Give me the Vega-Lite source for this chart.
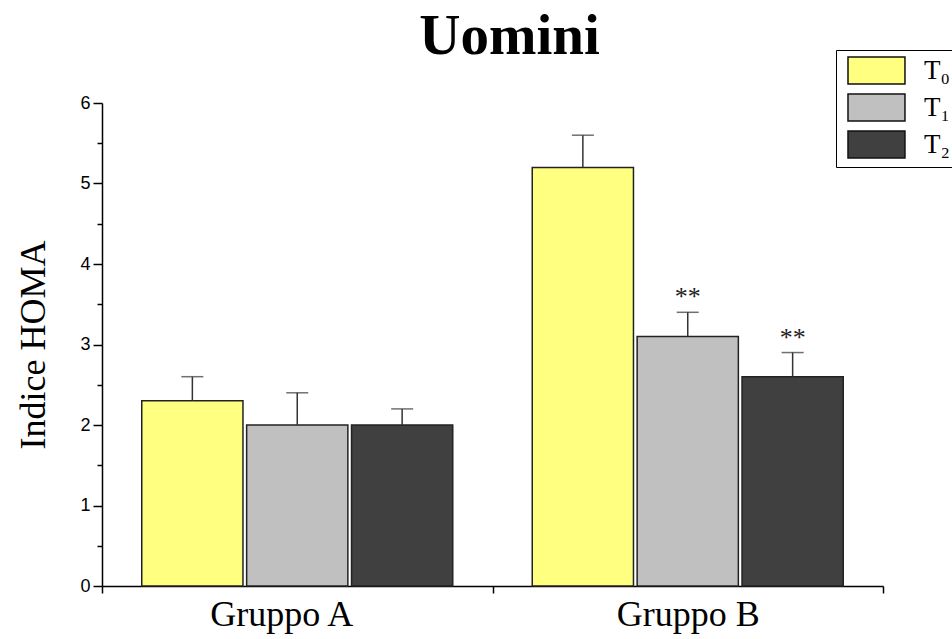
{
  "$schema": "https://vega.github.io/schema/vega-lite/v6.json",
  "autosize": {"type": "none"},
  "padding": {"left": 102, "top": 103, "right": 69, "bottom": 53},
  "width": 781,
  "height": 483,
  "background": "white",
  "config": {"view": {"stroke": null}},
  "title": {
    "text": "Uomini",
    "font": "Liberation Serif",
    "fontSize": 57,
    "fontWeight": "bold",
    "color": "black",
    "anchor": "middle",
    "dx": 17,
    "offset": -61,
    "baseline": "alphabetic"
  },
  "data": {
    "values": [
      {"gruppo": "Gruppo A", "tempo": "T₀", "valore": 2.3, "err": 2.6, "sig": ""},
      {"gruppo": "Gruppo A", "tempo": "T₁", "valore": 2.0, "err": 2.4, "sig": ""},
      {"gruppo": "Gruppo A", "tempo": "T₂", "valore": 2.0, "err": 2.2, "sig": ""},
      {"gruppo": "Gruppo B", "tempo": "T₀", "valore": 5.2, "err": 5.6, "sig": ""},
      {"gruppo": "Gruppo B", "tempo": "T₁", "valore": 3.1, "err": 3.4, "sig": "**"},
      {"gruppo": "Gruppo B", "tempo": "T₂", "valore": 2.6, "err": 2.9, "sig": "**"}
    ]
  },
  "encoding": {
    "x": {
      "field": "gruppo",
      "type": "nominal",
      "scale": {"paddingInner": 0, "paddingOuter": 0},
      "axis": {
        "title": null,
        "labelAngle": 0,
        "labelFont": "Liberation Serif",
        "labelFontSize": 36,
        "labelColor": "black",
        "labelBaseline": "alphabetic",
        "labelPadding": 32,
        "labelOffset": {"condition": {"test": "datum.value === 'Gruppo A'", "value": -16}, "value": 0},
        "tickBand": "extent",
        "tickSize": 7,
        "tickWidth": 1.5,
        "tickColor": "black",
        "domainColor": "black",
        "domainWidth": 1.5
      }
    },
    "xOffset": {
      "field": "tempo",
      "type": "nominal",
      "scale": {"paddingInner": 0.035, "paddingOuter": 0.379}
    }
  },
  "layer": [
    {
      "mark": {"type": "bar", "stroke": "#222222", "strokeWidth": 1.5},
      "encoding": {
        "y": {
          "field": "valore",
          "type": "quantitative",
          "scale": {"domain": [0, 6], "nice": false},
          "axis": {
            "title": "Indice HOMA",
            "titleFont": "Liberation Serif",
            "titleFontSize": 36,
            "titleFontWeight": "normal",
            "titleColor": "black",
            "titleX": -58,
            "titleAngle": -90,
            "titleBaseline": "alphabetic",
            "values": [0, 0.5, 1, 1.5, 2, 2.5, 3, 3.5, 4, 4.5, 5, 5.5, 6],
            "labelExpr": "datum.value % 1 === 0 ? format(datum.value, 'd') : ''",
            "labelFont": "Liberation Sans",
            "labelFontSize": 18,
            "labelColor": "black",
            "labelPadding": 3,
            "tickSize": {"condition": {"test": "datum.value % 1 === 0", "value": 9}, "value": 5},
            "tickWidth": 1.5,
            "tickColor": "black",
            "domainColor": "black",
            "domainWidth": 1.5,
            "grid": false
          }
        },
        "fill": {
          "field": "tempo",
          "type": "nominal",
          "scale": {"domain": ["T₀", "T₁", "T₂"], "range": ["#FFFF80", "#C0C0C0", "#404040"]},
          "legend": {
            "title": null,
            "orient": "none",
            "legendX": 734,
            "legendY": -53,
            "padding": 6,
            "strokeColor": "black",
            "fillColor": "white",
            "symbolType": "M-0.63,-1H3.59V1H-0.63Z",
            "symbolSize": 729,
            "symbolStrokeColor": "#111111",
            "symbolStrokeWidth": 1.5,
            "labelOffset": 53,
            "labelFont": "Liberation Serif",
            "labelFontSize": 27,
            "labelColor": "black",
            "rowPadding": 4
          }
        }
      }
    },
    {
      "mark": {"type": "rule", "color": "#333333", "strokeWidth": 1.5},
      "encoding": {
        "y": {"field": "valore", "type": "quantitative"},
        "y2": {"field": "err"}
      }
    },
    {
      "mark": {"type": "tick", "color": "#333333", "thickness": 1.5, "size": 22},
      "encoding": {
        "y": {"field": "err", "type": "quantitative"}
      }
    },
    {
      "mark": {"type": "text", "font": "Liberation Serif", "fontSize": 26, "color": "#222222", "baseline": "alphabetic", "dy": -7},
      "encoding": {
        "y": {"field": "err", "type": "quantitative"},
        "text": {"field": "sig"}
      }
    }
  ]
}
